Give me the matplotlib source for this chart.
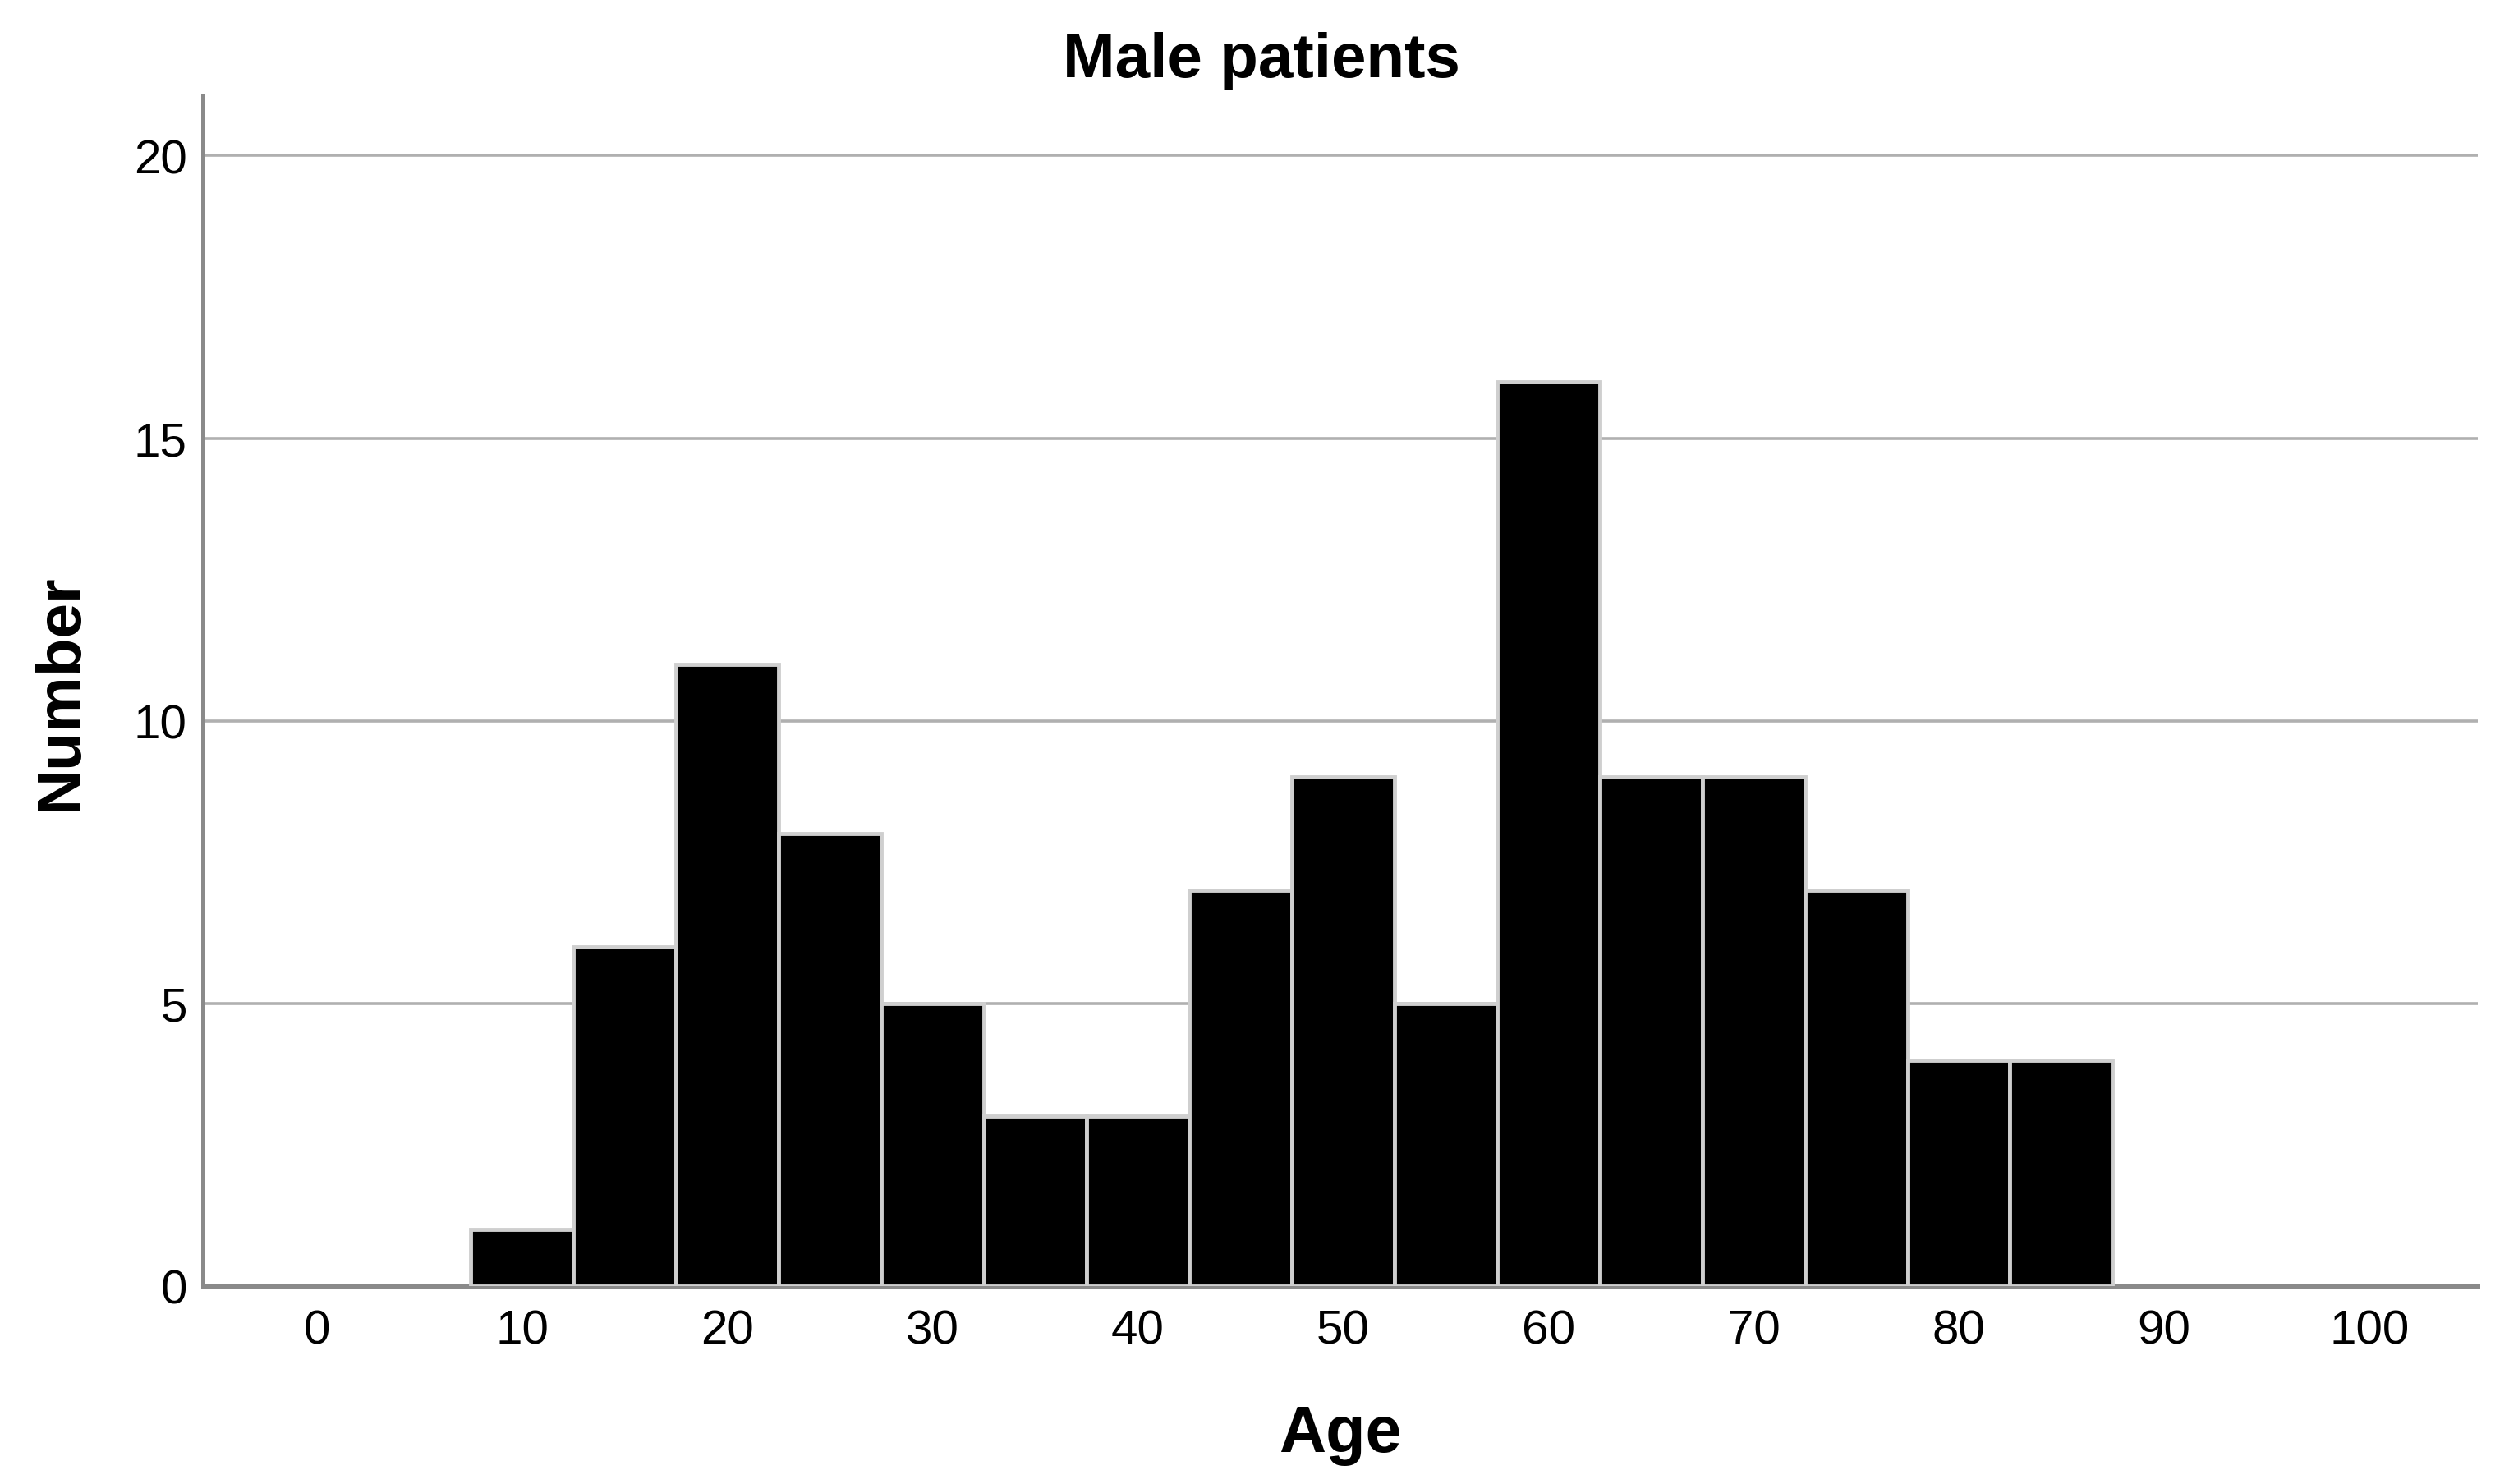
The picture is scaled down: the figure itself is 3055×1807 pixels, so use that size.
import numpy as np
import matplotlib.pyplot as plt

plt.rcParams['font.family'] = ['Liberation Sans', 'DejaVu Sans']

# histogram of ages, 5-year bins
bin_left = [7.5, 12.5, 17.5, 22.5, 27.5, 32.5, 37.5, 42.5,
            47.5, 52.5, 57.5, 62.5, 67.5, 72.5, 77.5, 82.5]
counts = [1, 6, 11, 8, 5, 3, 3, 7, 9, 5, 16, 9, 9, 7, 4, 4]
bin_width = 5

x_ticks = [0, 10, 20, 30, 40, 50, 60, 70, 80, 90, 100]
y_ticks = [0, 5, 10, 15, 20]

fig = plt.figure(figsize=(30.55, 18.08), dpi=100)
ax = fig.add_axes([0.0809, 0.1333, 0.9067, 0.8014])

ax.bar(bin_left, counts, width=bin_width, align='edge', color='black',
       edgecolor='#cfcfcf', linewidth=3.5, zorder=3)

ax.set_xlim(-5.56, 105.3)
ax.set_ylim(0, 21.05)
ax.set_xticks(x_ticks)
ax.set_yticks(y_ticks)

ax.yaxis.grid(True, color='#b0b0b0', linewidth=2.6, zorder=0)
ax.set_axisbelow(True)

for s in ['top', 'right']:
    ax.spines[s].set_visible(False)
for s in ['left', 'bottom']:
    ax.spines[s].set_color('#8a8a8a')
    ax.spines[s].set_linewidth(3.6)

ax.tick_params(axis='both', length=0, labelsize=42)
ax.tick_params(axis='x', pad=20)
ax.tick_params(axis='y', pad=14)

# title sits centred on the figure, not the axes
fig.text(0.5026, 0.959, 'Male patients', fontsize=55, fontweight='bold',
         ha='center', va='center')
ax.set_xlabel('Age', fontsize=57, fontweight='bold', labelpad=44)
ax.set_ylabel('Number', fontsize=55, fontweight='bold', labelpad=38)

plt.savefig('out.png', dpi=100)
